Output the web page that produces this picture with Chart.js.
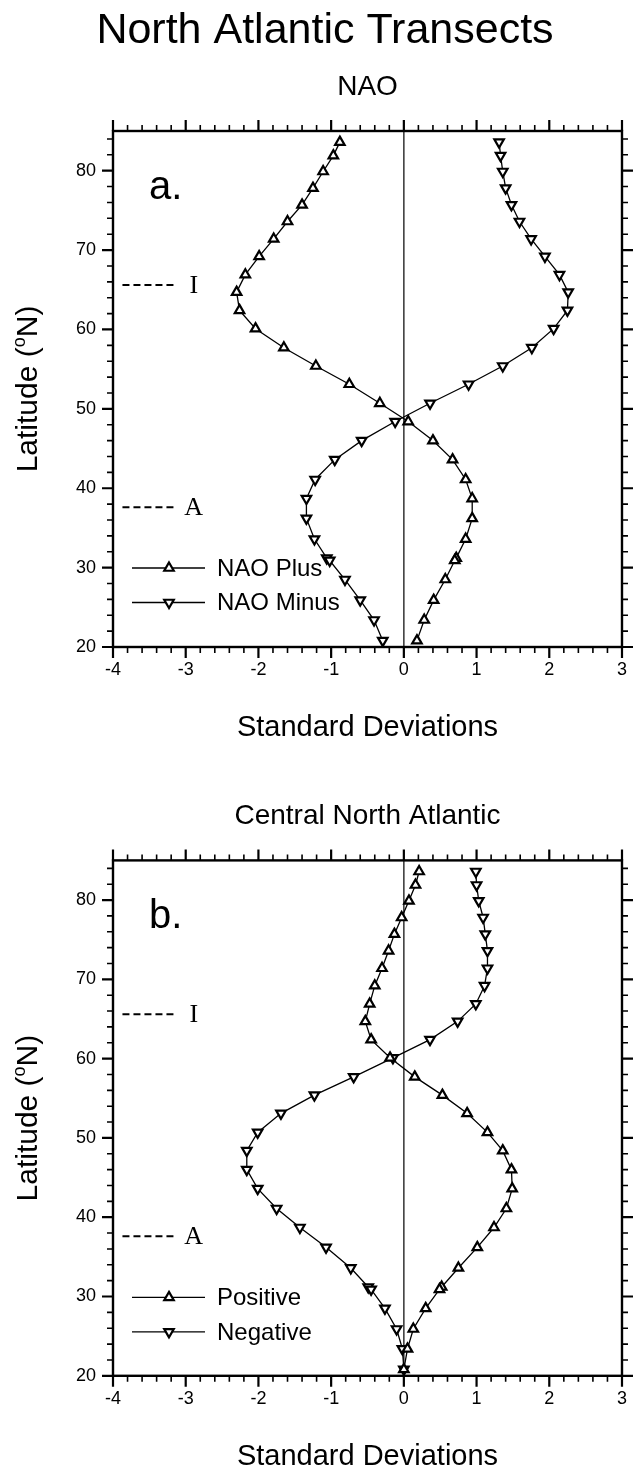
<!DOCTYPE html>
<html>
<head>
<meta charset="utf-8">
<title>North Atlantic Transects</title>
<script src="https://cdn.jsdelivr.net/npm/chart.js@4.4.1/dist/chart.umd.min.js"></script>
<style>
    html, body { margin: 0; padding: 0; background: #fff; }
    body { width: 639px; height: 1467px; position: relative; overflow: hidden; }
    canvas { position: absolute; left: 0; }
    #chartA { top: 0; }
    #chartB { top: 730px; }
</style>
</head>
<body>
<canvas id="chartA" width="639" height="770"></canvas>
<canvas id="chartB" width="639" height="737"></canvas>
<script>
// Latitudes of the transect points (deg N), north to south
const latitudes = [83.6, 81.9, 79.9, 77.8, 75.7, 73.6, 71.4, 69.2, 66.9, 64.7,
    62.4, 60.1, 57.7, 55.4, 53.1, 50.7, 48.4, 46.0, 43.6, 41.1,
    38.7, 36.2, 33.6, 31.2, 30.9, 28.5, 25.9, 23.4, 20.8];

// Panel a: NAO composites (standard deviations)
const naoPlus = [-0.88, -0.97, -1.11, -1.25, -1.40, -1.60, -1.79, -1.99, -2.18, -2.30,
    -2.26, -2.04, -1.65, -1.21, -0.75, -0.33, 0.06, 0.40, 0.67, 0.85,
    0.94, 0.94, 0.85, 0.72, 0.70, 0.57, 0.41, 0.28, 0.18];
const naoMinus = [1.31, 1.33, 1.36, 1.40, 1.48, 1.59, 1.75, 1.94, 2.14, 2.26,
    2.25, 2.06, 1.76, 1.36, 0.89, 0.36, -0.12, -0.58, -0.95, -1.22,
    -1.34, -1.34, -1.23, -1.06, -1.02, -0.81, -0.60, -0.41, -0.29];

// Panel b: Central North Atlantic composites
const cnaPositive = [0.21, 0.16, 0.07, -0.03, -0.13, -0.21, -0.30, -0.40, -0.47, -0.53,
    -0.45, -0.19, 0.15, 0.53, 0.87, 1.15, 1.36, 1.48, 1.49, 1.41,
    1.24, 1.01, 0.75, 0.52, 0.49, 0.30, 0.13, 0.05, 0.00];
const cnaNegative = [0.99, 1.00, 1.03, 1.09, 1.12, 1.15, 1.15, 1.11, 0.99, 0.74,
    0.36, -0.15, -0.69, -1.23, -1.69, -2.01, -2.16, -2.16, -2.01, -1.75,
    -1.43, -1.07, -0.73, -0.49, -0.45, -0.26, -0.10, -0.02, 0.00];

// Axis ranges
const xRange = [-4, 3];
const yRange = [20, 85];

// Reference latitudes marked at the left (Iceland / Azores)
const refLabels = ['I', 'A'];
const refLats = [65.6, 37.6];
const refLineX = [-3.87, -3.16];
const refTextX = -2.89;

const FONT = '"Liberation Sans", Arial, Helvetica, sans-serif';

function toPoints(values) {
    return latitudes.map((lat, i) => ({ x: values[i], y: lat }));
}

function drawTriangle(ctx, cx, cy, r, down) {
    ctx.save();
    ctx.translate(cx, cy);
    if (down) ctx.rotate(Math.PI);
    ctx.beginPath();
    for (let k = 0; k < 3; k++) {
        const ang = -Math.PI / 2 + k * 2 * Math.PI / 3;
        const px = Math.cos(ang) * r, py = Math.sin(ang) * r;
        if (k === 0) ctx.moveTo(px, py); else ctx.lineTo(px, py);
    }
    ctx.closePath();
    ctx.fillStyle = '#fff';
    ctx.fill();
    ctx.lineWidth = 2.2;
    ctx.strokeStyle = '#000';
    ctx.stroke();
    ctx.restore();
}

/**
 * Frame, outward ticks on all sides, titles, legend and labels
 */
const decorPlugin = {
    id: 'decor',
    afterDatasetsDraw(chart, args, opts) {
        const { ctx, chartArea: a, scales: { x, y } } = chart;
        ctx.save();
        ctx.strokeStyle = '#000';
        ctx.fillStyle = '#000';

        // x ticks every 0.2, major on integers
        for (let i = xRange[0] * 5; i <= xRange[1] * 5; i++) {
            const px = x.getPixelForValue(i / 5);
            const major = i % 5 === 0;
            const len = major ? 11 : 6;
            ctx.lineWidth = major ? 2.2 : 1.6;
            ctx.beginPath();
            ctx.moveTo(px, a.bottom); ctx.lineTo(px, a.bottom + len);
            ctx.moveTo(px, a.top); ctx.lineTo(px, a.top - len);
            ctx.stroke();
        }
        // y ticks every 2, major every 10
        for (let v = yRange[0]; v < yRange[1]; v += 2) {
            const py = y.getPixelForValue(v);
            const major = v % 10 === 0;
            const len = major ? 11 : 6;
            ctx.lineWidth = major ? 2.2 : 1.6;
            ctx.beginPath();
            ctx.moveTo(a.left, py); ctx.lineTo(a.left - len, py);
            ctx.moveTo(a.right, py); ctx.lineTo(a.right + len, py);
            ctx.stroke();
        }

        // frame
        ctx.lineWidth = 2.4;
        ctx.strokeRect(a.left, a.top, a.right - a.left, a.bottom - a.top);

        const cx = (a.left + a.right) / 2;

        // main title (top panel only)
        if (opts.mainTitle) {
            ctx.font = '43px ' + FONT;
            ctx.textAlign = 'center';
            ctx.textBaseline = 'middle';
            ctx.fillText(opts.mainTitle, 325, 31);
        }

        // panel subtitle
        ctx.font = '28px ' + FONT;
        ctx.textAlign = 'center';
        ctx.textBaseline = 'middle';
        ctx.fillText(opts.subtitle, cx, a.top - 44);

        // x axis title
        ctx.font = '29px ' + FONT;
        ctx.fillText('Standard Deviations', cx, a.bottom + 81);

        // y axis title with superscript degree "o"
        ctx.save();
        ctx.translate(29, (a.top + a.bottom) / 2);
        ctx.rotate(-Math.PI / 2);
        const big = '30px ' + FONT, small = '18px ' + FONT;
        ctx.font = big;
        const w1 = ctx.measureText('Latitude (').width;
        const w3 = ctx.measureText('N)').width;
        ctx.font = small;
        const w2 = ctx.measureText('o').width;
        let sx = -(w1 + w2 + w3) / 2;
        ctx.textAlign = 'left';
        ctx.font = big;
        ctx.fillText('Latitude (', sx, 0);
        sx += w1;
        ctx.font = small;
        ctx.fillText('o', sx, -9);
        sx += w2;
        ctx.font = big;
        ctx.fillText('N)', sx, 0);
        ctx.restore();

        // panel letter
        ctx.font = '40px ' + FONT;
        ctx.textAlign = 'left';
        ctx.textBaseline = 'alphabetic';
        ctx.fillText(opts.letter, a.left + 36, a.top + 68);

        // reference labels
        ctx.font = '26px "Liberation Serif", "Times New Roman", serif';
        ctx.textAlign = 'center';
        ctx.textBaseline = 'middle';
        refLabels.forEach((lab, i) => {
            ctx.fillText(lab, x.getPixelForValue(refTextX), y.getPixelForValue(refLats[i]) + 1);
        });

        // legend
        ctx.font = '24px ' + FONT;
        ctx.textAlign = 'left';
        opts.legend.forEach((lab, i) => {
            const ly = a.top + 437 + i * 34.5;
            ctx.lineWidth = 1.4;
            ctx.strokeStyle = '#000';
            ctx.beginPath();
            ctx.moveTo(a.left + 19, ly);
            ctx.lineTo(a.left + 92, ly);
            ctx.stroke();
            drawTriangle(ctx, a.left + 56, ly, 5.5, i === 1);
            ctx.fillStyle = '#000';
            ctx.fillText(lab, a.left + 104, ly + 1);
        });

        ctx.restore();
    }
};

function makeChart(canvasId, upSeries, downSeries, opts) {
    const canvas = document.getElementById(canvasId);
    const areaTop = opts.areaTop;
    const areaBottom = opts.areaBottom;

    const markerSeries = (label, values, rotation, order) => ({
        label: label,
        data: toPoints(values),
        borderColor: '#000',
        borderWidth: 1.3,
        pointStyle: 'triangle',
        pointRotation: rotation,
        pointRadius: 5.5,
        pointBorderWidth: 2.2,
        pointBackgroundColor: '#fff',
        pointBorderColor: '#000',
        tension: 0,
        order: order
    });

    const datasets = [
        markerSeries(opts.legend[0], upSeries, 0, 1),
        markerSeries(opts.legend[1], downSeries, 180, 2),
        {
            label: 'zero',
            data: [{ x: 0, y: yRange[0] }, { x: 0, y: yRange[1] }],
            borderColor: '#333',
            borderWidth: 1.5,
            pointRadius: 0,
            order: 10
        }
    ];
    refLats.forEach((lat) => {
        datasets.push({
            label: 'ref',
            data: refLineX.map(v => ({ x: v, y: lat })),
            borderColor: '#000',
            borderWidth: 2,
            borderDash: [7, 4],
            pointRadius: 0,
            order: 10
        });
    });

    return new Chart(canvas, {
        type: 'line',
        data: { datasets: datasets },
        options: {
            responsive: false,
            animation: false,
            events: [],
            layout: { padding: { top: areaTop, right: 11, left: 0, bottom: 0 } },
            scales: {
                x: {
                    type: 'linear',
                    min: xRange[0],
                    max: xRange[1],
                    grid: { display: false, drawTicks: false },
                    border: { display: false },
                    ticks: {
                        stepSize: 1,
                        padding: 12,
                        color: '#000',
                        font: { family: FONT, size: 18 }
                    },
                    afterFit: function (scale) { scale.height = canvas.height - areaBottom; }
                },
                y: {
                    type: 'linear',
                    min: yRange[0],
                    max: yRange[1],
                    grid: { display: false, drawTicks: false },
                    border: { display: false },
                    ticks: {
                        stepSize: 10,
                        includeBounds: false,
                        padding: 17,
                        color: '#000',
                        font: { family: FONT, size: 18 }
                    },
                    afterFit: function (scale) { scale.width = 113; }
                }
            },
            plugins: {
                legend: { display: false },
                title: { display: false },
                tooltip: { enabled: false },
                decor: opts
            }
        },
        plugins: [decorPlugin]
    });
}

document.addEventListener('DOMContentLoaded', function () {
    makeChart('chartA', naoPlus, naoMinus, {
        mainTitle: 'North Atlantic Transects',
        subtitle: 'NAO',
        letter: 'a.',
        legend: ['NAO Plus', 'NAO Minus'],
        areaTop: 131,
        areaBottom: 647
    });
    makeChart('chartB', cnaPositive, cnaNegative, {
        mainTitle: null,
        subtitle: 'Central North Atlantic',
        letter: 'b.',
        legend: ['Positive', 'Negative'],
        areaTop: 130.4,
        areaBottom: 645.8
    });
});
</script>
</body>
</html>
